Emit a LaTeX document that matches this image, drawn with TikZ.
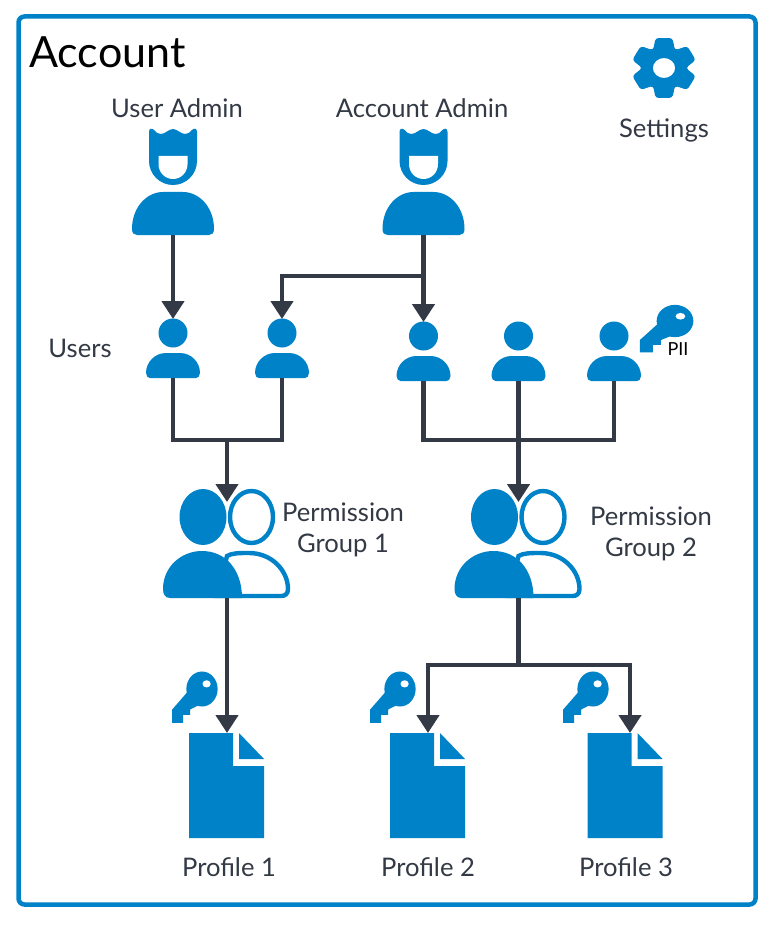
\documentclass[tikz,border=0pt]{standalone}
\usepackage{fontspec}
\setmainfont{Lato}
\usetikzlibrary{arrows.meta}
\definecolor{acblue}{HTML}{0082C9}
\definecolor{acink}{HTML}{333A45}
\tikzset{
  ac text/.style={font=\fontsize{25.6}{31}\selectfont, text=acink, align=center, inner sep=0pt},
  ac title/.style={font=\fontsize{43}{43}\selectfont, text=black, inner sep=0pt},
  ac small/.style={font=\fontsize{18}{18}\selectfont, text=black, inner sep=0pt},
  ac frame/.style={draw=acblue, line width=4.5pt, rounded corners=6pt, fill=white, outer sep=0pt},
  ac line/.style={draw=acink, line width=4.4pt},
  ac arrow/.style={ac line, -{Triangle[length=18pt,width=22pt]}},
  ac fill/.style={fill=acblue, draw=none},
  acadmin/.pic={
    \fill[ac fill] (-24,32) -- (-24,3) .. controls (-24,-1) and (-21,-1) .. (-19,1)
      .. controls (-16,4) and (-15,5) .. (-12,5) .. controls (-8,5) and (-4,0) .. (0,0)
      .. controls (4,0) and (8,5) .. (12,5) .. controls (15,5) and (16,4) .. (19,1)
      .. controls (21,-1) and (24,-1) .. (24,3) -- (24,32)
      .. controls (24,45.2) and (13.2,56) .. (0,56) .. controls (-13.2,56) and (-24,45.2) .. (-24,32) -- cycle;
    \fill[white] (-14.5,27) -- (14.5,27) -- (14.5,35) .. controls (14.5,43.5) and (8,50) .. (0,50)
      .. controls (-8,50) and (-14.5,43.5) .. (-14.5,35) -- cycle;
    \fill[ac fill] (-41,100) .. controls (-41,78) and (-26,63) .. (-10,63) -- (10,63)
      .. controls (26,63) and (41,78) .. (41,100) .. controls (41,104) and (39,106) .. (36,106)
      -- (-36,106) .. controls (-39,106) and (-41,104) .. (-41,100) -- cycle;
    \coordinate (-bot) at (0,106);
  },
  acuser/.pic={
    \fill[ac fill] (0,0) circle (14.5pt);
    \fill[ac fill] (-27,40) .. controls (-27,29) and (-18,20) .. (-7,20) -- (7,20)
      .. controls (18,20) and (27,29) .. (27,40) .. controls (27,43) and (25,45) .. (23,45)
      -- (-23,45) .. controls (-25,45) and (-27,43) .. (-27,40) -- cycle;
    \coordinate (-top) at (0,-14);
    \coordinate (-bot) at (0,45);
  },
  acgroup/.pic={
    \draw[draw=acblue, line width=4.4pt, fill=white] (0,67) .. controls (5,64) and (12,64) .. (22,64)
      .. controls (45,64) and (61,82) .. (61,100) .. controls (61,105) and (58,107) .. (54,107) -- (-10,107) -- cycle;
    \draw[draw=acblue, line width=4.4pt, fill=white] (24.5,28) ellipse (21.5pt and 26pt);
    \fill[ac fill] (-24,28) ellipse (23.5pt and 28pt);
    \fill[ac fill] (-64,100) .. controls (-64,78) and (-46,62) .. (-25,62)
      .. controls (-2,62) and (15,80) .. (15,109) -- (-57,109)
      .. controls (-62,109) and (-64,105) .. (-64,100) -- cycle;
    \coordinate (-top) at (0,13);
    \coordinate (-bot) at (0,109);
  },
  acprofile/.pic={
    \fill[ac fill] (0,0) -- (44,0) -- (44,33) -- (75,33) -- (75,105) -- (0,105) -- cycle;
    \fill[ac fill] (50,0) -- (75,26) -- (50,26) -- cycle;
  },
  ackey/.pic={
    \fill[ac fill] (0,0) circle (17pt);
    \fill[ac fill] (-32.5,33) -- (-32.5,20) -- (-13,0) -- (-2,15) -- (-13,20) -- (-13,25) -- (-20.5,25) -- (-20.5,33) -- cycle;
    \fill[white] (5,-5) ellipse (4.5pt and 3.5pt);
  },
  acgear/.pic={
    \fill[ac fill, even odd rule, rounded corners=3pt] (75:31)
      \foreach \a in {90,150,210,270,330,30} {-- (\a-15:31) -- (\a+15:31) -- (\a+30:20.5)} -- cycle
      (0,0) ellipse (10.5pt and 10pt);
  }
}
\begin{document}
\begin{tikzpicture}[x=1pt, y=-1pt]
  \useasboundingbox (0,0) rectangle (775,925);
  \node[ac frame, minimum width=737pt, minimum height=888pt, anchor=north west] (account) at (18.5,16.5) {};
  \node[ac title, anchor=west] (accountlabel) at (29,52) {Account};
  \pic[xscale=1.06] (settings) at (664,68) {acgear};
  \node[ac text] (settingslabel) at (664,130.5) {Settings};
  \node[ac text] (useradminlabel) at (177,108) {User Admin};
  \node[ac text] (accountadminlabel) at (422,108) {Account Admin};
  \node[ac text] (userslabel) at (80,348.5) {Users};
  \pic (useradmin) at (173,129) {acadmin};
  \pic (accountadmin) at (423.5,129) {acadmin};
  \foreach \name/\x/\y in {user1/173/333,user2/282/333,user3/423.5/336,user4/518.5/336,user5/614/336} {\pic (\name) at (\x,\y) {acuser};}
  \pic[xscale=1.08, yscale=0.95] (piikey) at (675,321) {ackey};
  \node[ac small] (piilabel) at (678,349) {PII};
  \pic (group1) at (227,489) {acgroup};
  \pic (group2) at (518.5,489) {acgroup};
  \node[ac text] (group1label) at (343,530) {Permission\\Group 1};
  \node[ac text] (group2label) at (651,533.5) {Permission\\Group 2};
  \foreach \name/\x in {profile1/189,profile2/390,profile3/587.5} {\pic (\name) at (\x,733) {acprofile};}
  \foreach \name/\x in {key1/202,key2/400,key3/593} {\pic[xscale=0.92, yscale=1.03] (\name) at (\x,689) {ackey};}
  \node[ac text] (profile1label) at (229,867.5) {Profile 1};
  \node[ac text] (profile2label) at (428,867.5) {Profile 2};
  \node[ac text] (profile3label) at (626,867.5) {Profile 3};
  \coordinate (adminjoin) at (423.5,276);
  \coordinate (join1) at (227,440);
  \coordinate (join2) at (518.5,440);
  \coordinate (join3) at (518.5,665);
  \coordinate (profile1top) at (227,733);
  \coordinate (profile2top) at (428,733);
  \coordinate (profile3top) at (630,733);
  \draw[ac arrow] (useradmin-bot) -- (user1-top);
  \draw[ac arrow] (accountadmin-bot) -- (user3-top);
  \draw[ac arrow] (adminjoin) -| (user2-top);
  \draw[ac line] (user1-bot) |- (join1) -| (user2-bot);
  \draw[ac line] (user3-bot) |- (join2) -| (user5-bot);
  \draw[ac line] (user4-bot) -- (join2);
  \draw[ac arrow] (join1) -- (group1-top);
  \draw[ac arrow] (join2) -- (group2-top);
  \draw[ac arrow] (group1-bot) -- (profile1top);
  \draw[ac line] (group2-bot) -- (join3);
  \draw[ac arrow] (join3) -| (profile2top);
  \draw[ac arrow] (join3) -| (profile3top);
\end{tikzpicture}
\end{document}
